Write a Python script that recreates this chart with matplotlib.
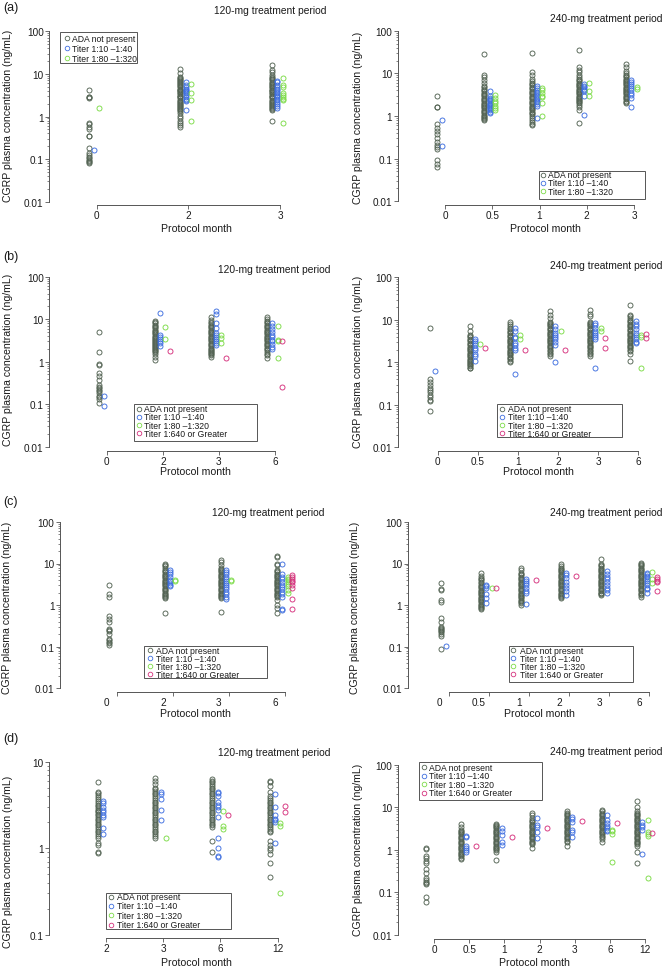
import numpy as np
import matplotlib
matplotlib.use("Agg")
import matplotlib.pyplot as plt
import matplotlib.transforms as mtransforms
from matplotlib.lines import Line2D
from matplotlib.patches import Rectangle

plt.rcParams['font.family'] = ['Liberation Sans', 'DejaVu Sans']

# ---------------- data ----------------
group_labels = ["ADA not present", "Titer 1:10 \u20131:40", "Titer 1:80 \u20131:320",
                "Titer 1:640 or Greater"]

# (a) 120 mg
a120_months = ["0", "2", "3"]
a120_ada = [
    [4.3, 2.9, 2.8, 2.7, 0.72, 0.65, 0.58, 0.5, 0.35, 0.34, 0.18, 0.14, 0.125, 0.115, 0.105, 0.097, 0.09, 0.085, 0.08],
    [13, 10.5, 8.5, 8, 7.6, 7.2, 6.8, 6.4, 6.0, 5.7, 5.4, 5.1, 4.8, 4.5, 4.3, 4.1, 3.9, 3.7, 3.5, 3.3, 3.1, 2.95, 2.8, 2.65,
     2.5, 2.35, 2.2, 2.1, 2.0, 1.9, 1.8, 1.7, 1.6, 1.5, 1.42, 1.35, 1.2, 1.05, 0.92, 0.8, 0.7, 0.63, 0.58],
    [16, 12.5, 11, 9.5, 8.5, 8, 7.5, 7, 6.6, 6.2, 5.8, 5.5, 5.2, 4.9, 4.6, 4.3, 4.1, 3.9, 3.7, 3.5, 3.3, 3.1, 2.95, 2.8,
     2.65, 2.5, 2.35, 2.2, 2.1, 2.0, 1.9, 1.8, 1.7, 1.6, 1.5, 1.42, 0.78],
]
a120_t1 = [[0.16], [6.5, 5.6, 4.8, 4.4, 4.1, 3.9, 3.7, 3.5, 3.2, 2.9, 2.6, 2.4, 2.3, 1.4],
           [6.8, 6.4, 5.6, 5.0, 4.5, 4.1, 3.8, 3.5, 3.2, 3.0, 2.8, 2.6, 2.4, 2.2, 2.0, 1.8, 1.6]]
a120_t2 = [[1.6], [5.8, 3.5, 2.4, 0.8], [7.8, 5.4, 5.0, 3.5, 3.2, 2.9, 2.6, 2.4, 0.7]]

# (a) 240 mg
a240_months = ["0", "0.5", "1", "2", "3"]
a240_ada = [
    [3.0, 1.65, 1.6, 0.65, 0.52, 0.45, 0.38, 0.3, 0.24, 0.21, 0.19, 0.17, 0.095, 0.075, 0.063],
    [28, 9, 8, 7, 6, 5, 4.7, 4.4, 4.1, 3.8, 3.5, 3.3, 3.1, 2.9, 2.7, 2.5, 2.35, 2.2, 2.05, 1.9, 1.8, 1.7, 1.6, 1.5, 1.4,
     1.3, 1.22, 1.15, 1.08, 1.0, 0.95, 0.9, 0.85, 0.8],
    [30, 10.5, 9, 7.5, 6.5, 6.0, 5.6, 5.2, 4.8, 4.5, 4.2, 3.9, 3.6, 3.4, 3.2, 3.0, 2.8, 2.6, 2.45, 2.3, 2.15, 2.0, 1.88,
     1.76, 1.65, 1.55, 1.45, 1.35, 1.25, 1.17, 1.1, 1.02, 0.9, 0.8, 0.72, 0.66, 0.61],
    [36, 14, 12, 10.5, 9, 8, 7.5, 7, 6.5, 6.1, 5.7, 5.3, 5.0, 4.7, 4.4, 4.1, 3.8, 3.6, 3.4, 3.2, 3.0, 2.8, 2.65, 2.5,
     2.35, 2.2, 2.1, 2.0, 1.8, 1.6, 1.4, 0.68],
    [17, 14, 11.5, 10, 9, 8.5, 8, 7.5, 7, 6.6, 6.2, 5.8, 5.5, 5.2, 4.9, 4.6, 4.3, 4.0, 3.8, 3.6, 3.4, 3.2, 3.0, 2.8, 2.6,
     2.45, 2.3, 2.15, 2.05],
]
a240_t1 = [[0.8, 0.2],
           [3.9, 2.9, 2.7, 2.5, 2.35, 2.2, 2.05, 1.95, 1.85, 1.75, 1.65, 1.55, 1.45, 1.35, 1.25, 1.15],
           [5.0, 4.5, 4.1, 3.7, 3.4, 3.1, 2.9, 2.7, 2.5, 2.3, 2.1, 1.9, 1.75, 0.92],
           [5.6, 5.1, 4.7, 4.4, 4.1, 3.8, 3.0, 1.05],
           [7.0, 6.3, 5.6, 5.0, 4.5, 4.0, 3.5, 3.1, 2.6, 1.65]]
a240_t2 = [[], [3.1, 2.7, 2.3, 2.0, 1.75, 1.55, 1.35], [4.5, 4.0, 3.5, 3.0, 2.8, 2.0, 1.0], [6.0, 3.8, 3.0], [4.8, 4.2]]

# (b) 120 mg
b120_months = ["0", "2", "3", "6"]
b120_ada = [
    [5.0, 1.7, 0.9, 0.85, 0.55, 0.45, 0.38, 0.28, 0.26, 0.24, 0.22, 0.2, 0.18, 0.16, 0.15, 0.13, 0.105],
    [9, 8.5, 8, 7.5, 7, 6.5, 6.1, 5.7, 5.3, 5.0, 4.7, 4.4, 4.1, 3.9, 3.7, 3.5, 3.3, 3.1, 2.9, 2.75, 2.6, 2.45, 2.3, 2.2,
     2.1, 2.0, 1.9, 1.8, 1.7, 1.5, 1.3, 1.1],
    [11, 9.5, 8.5, 8, 7.5, 7, 6.5, 6.1, 5.7, 5.3, 5.0, 4.7, 4.4, 4.1, 3.8, 3.6, 3.4, 3.2, 3.0, 2.8, 2.6, 2.45, 2.3, 2.15,
     2.0, 1.9, 1.8, 1.7, 1.6, 1.5, 1.4, 1.3],
    [11.5, 10, 9, 8.5, 8, 7.5, 7, 6.5, 6.1, 5.7, 5.3, 5.0, 4.7, 4.4, 4.1, 3.8, 3.6, 3.4, 3.2, 3.0, 2.8, 2.6, 2.45, 2.3,
     2.15, 2.0, 1.85, 1.7, 1.55, 1.45, 1.25],
]
b120_t1 = [[0.16, 0.092], [14, 4.2, 3.8, 3.4, 3.0, 2.7, 2.4], [16, 13, 8, 6.2, 4.8, 4.2, 3.8, 3.4, 3.1, 2.8, 2.5],
           [8, 7, 6, 5, 4.3, 3.8, 3.3, 3.0, 2.6, 2.2, 2.0]]
b120_t2 = [[], [6.5, 3.4], [4.2, 3.6, 2.8], [7, 3.3, 3.1, 1.25]]
b120_t3 = [[], [1.75], [1.25], [3.0, 0.26]]

# (b) 240 mg
b240_months = ["0", "0.5", "1", "2", "3", "6"]
b240_ada = [
    [6.3, 0.4, 0.35, 0.3, 0.25, 0.22, 0.2, 0.17, 0.15, 0.13, 0.12, 0.072],
    [7, 5.5, 4.5, 4.2, 3.9, 3.6, 3.3, 3.1, 2.9, 2.7, 2.5, 2.35, 2.2, 2.05, 1.9, 1.8, 1.7, 1.6, 1.5, 1.4, 1.3, 1.22,
     1.15, 1.08, 1.0, 0.95, 0.9, 0.85, 0.8, 0.75, 0.72],
    [9, 8, 7, 6.5, 6.0, 5.6, 5.2, 4.8, 4.5, 4.2, 3.9, 3.6, 3.4, 3.2, 3.0, 2.8, 2.6, 2.45, 2.3, 2.15, 2.0, 1.88, 1.76,
     1.65, 1.55, 1.45, 1.35, 1.25, 1.17, 1.1, 1.0],
    [16, 13, 11, 9, 8.5, 8, 7.5, 7, 6.5, 6.1, 5.7, 5.3, 5.0, 4.7, 4.4, 4.1, 3.8, 3.6, 3.4, 3.2, 3.0, 2.8, 2.6, 2.45, 2.3,
     2.15, 2.0, 1.85, 1.7, 1.55, 1.4],
    [17, 14, 12, 9, 8.5, 8, 7.5, 7, 6.5, 6.1, 5.7, 5.3, 5.0, 4.7, 4.4, 4.1, 3.8, 3.6, 3.4, 3.2, 3.0, 2.8, 2.6, 2.45, 2.3,
     2.15, 2.0, 1.85, 1.7, 1.55, 1.4],
    [22, 13, 12, 11, 10, 9.3, 8.7, 8.1, 7.6, 7.1, 6.6, 6.2, 5.8, 5.4, 5.0, 4.7, 4.4, 4.1, 3.8, 3.6, 3.4, 3.2, 3.0, 2.8,
     2.6, 2.45, 2.3, 2.15, 2.0, 1.8, 1.6, 1.1],
]
b240_t1 = [[0.62], [3.5, 3.1, 2.8, 2.5, 2.2, 1.9, 1.6, 1.4, 1.1], [6.5, 5.5, 4.0, 3.7, 2.8, 2.5, 2.2, 2.0, 0.53],
           [7, 6, 5, 4.5, 4, 3.5, 3, 2.6, 1.0], [8.5, 7.5, 6.5, 5.5, 5.0, 4.5, 4.0, 3.5, 0.75],
           [9.5, 8, 7, 6, 5, 4.5, 4, 3.5, 3, 2.8]]
b240_t2 = [[], [2.7], [4.5, 3.6], [5.6], [6.5, 5.6], [4.5, 4.0, 0.72]]
b240_t3 = [[], [2.2], [1.9], [1.9], [3.8, 2.2], [4.6, 3.8]]

# (c) 120 mg
c120_months = ["0", "2", "3", "6"]
c120_ada = [
    [3.1, 1.8, 1.6, 0.55, 0.45, 0.4, 0.26, 0.25, 0.24, 0.2, 0.15, 0.14, 0.13, 0.12, 0.11],
    [10, 9.3, 8.7, 8, 7, 6.5, 6.1, 5.7, 5.3, 5.0, 4.7, 4.4, 4.1, 3.8, 3.6, 3.4, 3.2, 3.0, 2.8, 2.6, 2.45, 2.3, 2.15, 2.0,
     1.88, 1.76, 1.65, 1.55, 1.45, 0.65],
    [12, 11, 9, 8, 7.5, 7, 6.5, 6.1, 5.7, 5.3, 5.0, 4.7, 4.4, 4.1, 3.8, 3.6, 3.4, 3.2, 3.0, 2.8, 2.6, 2.45, 2.3, 2.15,
     2.0, 1.88, 1.76, 1.65, 1.55, 1.5, 0.68],
    [15, 14, 10, 9, 7, 6.5, 6.1, 5.7, 5.3, 5.0, 4.7, 4.4, 4.1, 3.8, 3.6, 3.4, 3.2, 3.0, 2.8, 2.6, 2.45, 2.3, 2.15, 2.0,
     1.88, 1.76, 1.65, 1.55, 1.3, 1.0, 0.85, 0.65],
]
c120_t1 = [[], [7, 6.3, 5.5, 4.6, 4.1, 3.7, 3.4, 3.1, 2.8],
           [7, 6.3, 5.5, 4.8, 4.2, 3.7, 3.3, 3.0, 2.7, 2.4, 2.1, 1.8, 1.6, 1.4],
           [10, 5.5, 4.8, 4.2, 3.6, 3.1, 2.7, 2.4, 2.1, 1.8, 1.6, 0.8, 0.75]]
c120_t2 = [[], [4.0, 3.8], [4.1, 3.7], [4.8, 4.3, 3.9, 3.5, 3.2, 2.8, 2.3, 2.0]]
c120_t3 = [[], [], [], [5.3, 4.7, 4.2, 3.8, 3.5, 3.0, 2.6, 1.4, 0.8]]

# (c) 240 mg
c240_months = ["0", "0.5", "1", "2", "3", "6"]
c240_ada = [
    [3.4, 2.4, 2.3, 1.3, 1.2, 0.48, 0.4, 0.3, 0.28, 0.26, 0.25, 0.24, 0.22, 0.2, 0.18, 0.085],
    [5.8, 5.0, 4.5, 4.2, 3.9, 3.6, 3.3, 3.1, 2.9, 2.7, 2.5, 2.35, 2.2, 2.05, 1.9, 1.8, 1.7, 1.6, 1.5, 1.4, 1.3, 1.22,
     1.15, 1.08, 1.0, 0.95, 0.9, 0.85, 0.82],
    [8, 7, 6, 5.6, 5.2, 4.8, 4.5, 4.2, 3.9, 3.6, 3.4, 3.2, 3.0, 2.8, 2.6, 2.45, 2.3, 2.15, 2.0, 1.88, 1.76, 1.65, 1.55,
     1.45, 1.35, 1.25, 1.17, 1.1, 1.0],
    [10, 8.5, 8, 7.5, 7, 6.5, 6.1, 5.7, 5.3, 5.0, 4.7, 4.4, 4.1, 3.8, 3.6, 3.4, 3.2, 3.0, 2.8, 2.6, 2.45, 2.3, 2.15, 2.0,
     1.88, 1.76, 1.65, 1.55, 1.45],
    [12.5, 9.5, 9, 8.5, 8, 7.5, 7, 6.5, 6.1, 5.7, 5.3, 5.0, 4.7, 4.4, 4.1, 3.8, 3.6, 3.4, 3.2, 3.0, 2.8, 2.6, 2.45, 2.3,
     2.15, 2.0, 1.9, 1.8, 1.7],
    [10.5, 9.5, 9, 8.5, 8, 7.5, 7, 6.5, 6.1, 5.7, 5.3, 5.0, 4.7, 4.4, 4.1, 3.8, 3.6, 3.4, 3.2, 3.0, 2.8, 2.6, 2.45, 2.3,
     2.15, 2.0, 1.88, 1.76, 1.6],
]
c240_t1 = [[0.105], [3.0, 2.8, 2.6, 1.8, 1.5, 1.1], [4.2, 3.8, 3.4, 3.0, 2.5, 2.2, 1.9, 1.05],
           [6, 5.2, 4.4, 3.6, 3.1, 2.6, 2.2, 1.7], [6.5, 5.6, 4.8, 4.2, 3.6, 3.1, 2.6, 2.3, 2.0],
           [6.0, 5.5, 5.0, 4.6, 4.2, 3.8, 3.4, 3.0, 2.6, 2.4, 2.0]]
c240_t2 = [[], [2.5], [], [], [], [6.3, 4.2, 3.3]]
c240_t3 = [[], [2.6], [4.0], [5.0], [], [4.7, 4.2, 3.8, 3.5, 2.2]]

# (d) 120 mg
d120_months = ["2", "3", "6", "12"]
d120_ada = [
    [5.8, 4.5, 4.3, 4.1, 3.9, 3.7, 3.5, 3.35, 3.2, 3.05, 2.9, 2.8, 2.7, 2.6, 2.5, 2.4, 2.3, 2.2, 2.1, 2.0, 1.92, 1.84,
     1.76, 1.68, 1.6, 1.53, 1.46, 1.4, 1.3, 1.15, 1.1, 0.9, 0.88],
    [6.5, 6.0, 5.5, 5.0, 4.8, 4.6, 4.4, 4.2, 4.0, 3.8, 3.6, 3.45, 3.3, 3.15, 3.0, 2.88, 2.76, 2.64, 2.52, 2.4, 2.3, 2.2,
     2.1, 2.0, 1.92, 1.84, 1.76, 1.68, 1.6, 1.53, 1.46, 1.4, 1.3],
    [6.3, 6.0, 5.8, 5.5, 5.2, 5.0, 4.8, 4.6, 4.4, 4.2, 4.0, 3.8, 3.6, 3.45, 3.3, 3.15, 3.0, 2.88, 2.76, 2.64, 2.52, 2.4,
     2.3, 2.2, 2.1, 2.0, 1.92, 1.84, 1.76, 1.2, 0.9],
    [6.0, 5.8, 5.2, 4.5, 4.0, 3.8, 3.6, 3.45, 3.3, 3.15, 3.0, 2.88, 2.76, 2.64, 2.52, 2.4, 2.3, 2.2, 2.1, 2.0, 1.92,
     1.84, 1.76, 1.68, 1.6, 1.53, 1.2, 1.1, 1.0, 0.95, 0.85, 0.67, 0.47],
]
d120_t1 = [[3.5, 3.3, 3.0, 2.8, 2.6, 2.4, 2.3, 1.7, 1.45], [4.5, 4.2, 3.7, 2.8, 2.1],
           [4.5, 4.3, 4.0, 3.4, 3.2, 3.0, 2.8, 2.3, 1.3, 1.0, 0.82, 0.8], [4.2, 3.0, 2.4, 2.2, 2.1, 2.0, 1.15]]
d120_t2 = [[], [1.3], [2.7, 1.8, 1.65], [1.95, 1.8, 0.3]]
d120_t3 = [[], [], [2.4], [3.1, 2.6]]

# (d) 240 mg
d240_months = ["0", "0.5", "1", "2", "3", "6", "12"]
d240_ada = [
    [1.1, 1.05, 0.7, 0.65, 0.55, 0.5, 0.35, 0.28, 0.22, 0.2, 0.18, 0.17, 0.16, 0.08, 0.06],
    [4.0, 3.5, 3.0, 2.8, 2.6, 2.45, 2.3, 2.15, 2.0, 1.88, 1.76, 1.65, 1.55, 1.45, 1.35, 1.25, 1.17, 1.1, 1.03, 0.97,
     0.91, 0.85, 0.8, 0.75, 0.7, 0.65, 0.6],
    [4.0, 3.8, 3.6, 3.4, 3.2, 3.0, 2.8, 2.6, 2.45, 2.3, 2.15, 2.0, 1.88, 1.76, 1.65, 1.55, 1.45, 1.35, 1.25, 1.17, 1.1,
     1.03, 0.97, 0.9, 0.58],
    [7.5, 6.5, 5.5, 5.0, 4.7, 4.4, 4.1, 3.8, 3.6, 3.4, 3.2, 3.0, 2.8, 2.6, 2.45, 2.3, 2.15, 2.0, 1.88, 1.76, 1.65, 1.55,
     1.45, 1.35, 1.1],
    [8, 7.5, 7, 6.5, 6.1, 5.7, 5.3, 5.0, 4.7, 4.4, 4.1, 3.8, 3.6, 3.4, 3.2, 3.0, 2.8, 2.6, 2.45, 2.3, 2.15, 2.0, 1.88,
     1.76, 1.65, 1.5, 1.2],
    [8.5, 8, 7.5, 7, 6.5, 6.1, 5.7, 5.3, 5.0, 4.7, 4.4, 4.1, 3.8, 3.6, 3.4, 3.2, 3.0, 2.8, 2.6, 2.45, 2.3, 2.15, 2.0,
     1.8, 1.5],
    [14, 10, 8, 7.5, 7, 6.5, 6.1, 5.7, 5.3, 5.0, 4.7, 4.4, 4.1, 3.8, 3.6, 3.4, 3.2, 3.0, 2.8, 2.6, 2.45, 2.3, 2.15, 2.0,
     1.88, 1.76, 1.65, 1.55, 1.45, 1.35, 1.2, 0.9, 0.48],
]
d240_t1 = [[], [2.1, 2.0, 1.2, 1.1, 1.0, 0.9], [3.2, 2.8, 2.2, 1.5, 1.3], [5.6, 3.8, 3.4, 2.6, 1.9],
           [6.0, 5.2, 4.5, 3.0, 2.6, 2.0], [6.5, 5.0, 4.2, 3.6, 3.2, 3.0, 2.8], [4.5, 3.8, 3.4, 3.0, 0.78]]
d240_t2 = [[], [], [], [], [], [3.0, 2.7, 2.4, 0.52], [5.0, 2.6, 2.3, 2.1, 0.22]]
d240_t3 = [[], [1.25], [2.05], [3.2], [4.7], [4.2], [2.5]]

# ---------------- drawing ----------------
W, H = 665, 970
colors = ["#536353", "#3f6fe0", "#7ddc48", "#d6327e"]
offsets_px = [-8, -2.7, 2.5, 7.3]
axcol = "#555555"
txtcol = "#1a1a1a"

fig = plt.figure(figsize=(W / 100, H / 100), dpi=100)


def fx(x):
    return x / W


def fy(y):
    return 1 - y / H


def panel(months, groups, yax_x, right_x, top_y, xax_y, tick0, sp, ytop, ybot, label_shift=0):
    ax = fig.add_axes([fx(yax_x), fy(xax_y), (right_x - yax_x) / W, (xax_y - top_y) / H])
    ax.set_yscale('log')
    for g, vals in enumerate(groups):
        tr = mtransforms.offset_copy(ax.transData, fig=fig, x=offsets_px[g], y=0, units='dots')
        for i, v in enumerate(vals):
            if len(v):
                ax.plot([i] * len(v), v, 'o', ms=3.6, mfc='none', mec=colors[g], mew=0.65,
                        transform=tr, clip_on=False)
    n = len(months)
    ax.set_xlim((yax_x - tick0) / sp, (right_x - tick0) / sp)
    (vt, pt), (vb, pb) = ytop, ybot
    dec = (pb - pt) / (np.log10(vt) - np.log10(vb))
    ax.set_ylim(10 ** (np.log10(vb) - (xax_y - pb) / dec), 10 ** (np.log10(vt) + (pt - top_y) / dec))

    for s in ['top', 'right']:
        ax.spines[s].set_visible(False)
    for s in ['left', 'bottom']:
        ax.spines[s].set_color(axcol)
        ax.spines[s].set_linewidth(0.7)
    ax.spines['left'].set_bounds(vb, vt)
    ax.spines['bottom'].set_bounds(0, n - 1)

    ex = np.arange(int(round(np.log10(vb))), int(round(np.log10(vt))) + 1)
    majors = [10.0 ** e for e in ex]
    ax.set_yticks(majors)
    ax.set_yticklabels(["%g" % m for m in majors])
    ax.set_yticks([m * 10.0 ** e for e in ex[:-1] for m in range(2, 10)], minor=True)
    ax.yaxis.set_minor_formatter(plt.NullFormatter())

    # tick marks on major ticks, month labels on (zero-length) minor ticks
    ax.xaxis.remove_overlapping_locs = False
    ax.set_xticks(range(n))
    ax.set_xticklabels([])
    ax.set_xticks([i + label_shift / sp for i in range(n)], months, minor=True)

    ax.tick_params(axis='y', which='major', length=3.0, width=0.6, color=axcol, pad=1,
                   labelsize=7.2, labelcolor=txtcol)
    ax.tick_params(axis='y', which='minor', length=1.6, width=0.5, color=axcol)
    ax.tick_params(axis='x', which='major', length=2.6, width=0.6, color=axcol)
    ax.tick_params(axis='x', which='minor', length=0, pad=3.8, labelsize=7.2, labelcolor=txtcol)
    ax.patch.set_alpha(0)
    return ax


def legend(x0, y0, x1, y1, row0, dy, mx, tx, n):
    fig.add_artist(Rectangle((fx(x0), fy(y1)), (x1 - x0) / W, (y1 - y0) / H, transform=fig.transFigure,
                             fill=False, ec=axcol, lw=0.7))
    for k in range(n):
        y = row0 + k * dy
        fig.add_artist(Line2D([fx(mx)], [fy(y)], marker='o', ms=3.3, mfc='none', mec=colors[k], mew=0.6,
                              ls='', transform=fig.transFigure))
        fig.text(fx(tx), fy(y), group_labels[k], fontsize=6.2, va='center', ha='left', color=txtcol)


def texts(letter, ly, tl, tr_, xl, xr, xy, yl, yr, yy_l, yy_r):
    fig.text(fx(3), fy(ly), letter, fontsize=9, va='center', ha='left', color=txtcol)
    fig.text(fx(tl[0]), fy(tl[1]), "120-mg treatment period", fontsize=7.4, ha='right', va='center', color=txtcol)
    fig.text(fx(tr_[0]), fy(tr_[1]), "240-mg treatment period", fontsize=7.4, ha='right', va='center', color=txtcol)
    for x in (xl, xr):
        fig.text(fx(x), fy(xy), "Protocol month", fontsize=7.6, ha='center', va='center', color=txtcol)
    for x, y in ((yl, yy_l), (yr, yy_r)):
        fig.text(fx(x), fy(y), "CGRP plasma concentration (ng/mL)", fontsize=7.6, rotation=90,
                 ha='center', va='center', color=txtcol)


# (a)
panel(a120_months, [a120_ada, a120_t1, a120_t2], 49.3, 330, 27, 206, 96.7, 91.65, (100, 32.3), (0.01, 202.7))
panel(a240_months, [a240_ada, a240_t1, a240_t2], 397.7, 662, 27, 206, 445, 47.25, (100, 31.7), (0.01, 202.3))
legend(60, 33.3, 136.7, 64, 39, 10, 66.7, 71.7, 3)
legend(539.3, 172.3, 645, 200, 175.7, 8.2, 543.3, 548.3, 3)
texts("(a)", 8, (326, 10.7), (663, 19.3), 196.7, 545, 229.3, 8.5, 358.3, 116, 118)

# (b)
panel(b120_months, [b120_ada, b120_t1, b120_t2, b120_t3], 49.3, 330, 274, 451.7, 106.7, 56.1,
      (100, 277.7), (0.01, 447.7))
panel(b240_months, [b240_ada, b240_t1, b240_t2, b240_t3], 397.7, 662, 274, 452, 437.7, 40.12,
      (100, 278.3), (0.01, 448.3))
legend(134.3, 405, 257.3, 442.3, 409.5, 8.33, 139.3, 144, 4)
legend(497.3, 405, 621.7, 438.3, 409.5, 8.33, 502.3, 508.3, 4)
texts("(b)", 256.7, (330, 270), (663, 265.7), 195, 538, 472, 8.5, 358.3, 360, 362)

# (c)
panel(c120_months, [c120_ada, c120_t1, c120_t2, c120_t3], 60, 330, 519, 693, 116.7, 56.1,
      (100, 523), (0.01, 689), label_shift=-10)
panel(c240_months, [c240_ada, c240_t1, c240_t2, c240_t3], 407.7, 662, 519, 693, 449, 40.06,
      (100, 523), (0.01, 689), label_shift=-10)
legend(144, 647.3, 267.3, 679, 651.3, 8.0, 150, 156, 4)
legend(509.3, 647.3, 632.7, 683.3, 651.3, 8.0, 513.3, 520, 4)
texts("(c)", 501.7, (325, 513.3), (663, 513.3), 195, 539, 714, 7.5, 355, 608, 608)

# (d)
panel(d120_months, [d120_ada, d120_t1, d120_t2, d120_t3], 49.3, 330, 758, 939, 106, 57.23,
      (10, 762.7), (0.1, 935.7))
panel(d240_months, [d240_ada, d240_t1, d240_t2, d240_t3], 397.7, 662, 761, 940, 434, 35.17,
      (100, 765.7), (0.01, 936))
legend(106, 894.3, 231, 930, 897.7, 9.3, 111, 116.7, 4)
legend(419.3, 763.3, 542.3, 801, 768.3, 8.5, 424.3, 429.3, 4)
texts("(d)", 739, (330, 753.3), (663, 752.3), 196, 534, 963.3, 8.5, 358.3, 862, 850)

fig.savefig("out.png", dpi=100)
